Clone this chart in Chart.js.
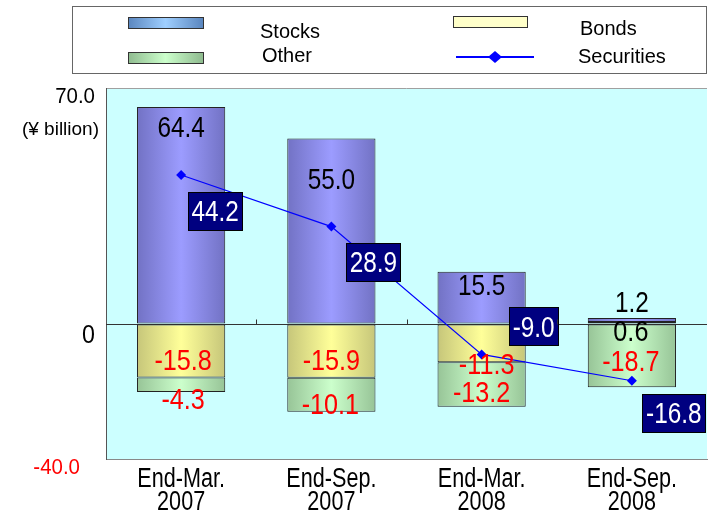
<!DOCTYPE html>
<html>
<head>
<meta charset="utf-8">
<script src="https://cdn.jsdelivr.net/npm/chart.js@4.4.0/dist/chart.umd.min.js"></script>
<style>
  html, body { margin: 0; padding: 0; background: #fff; overflow: hidden; }
  #wrap { width: 708px; height: 511px; overflow: hidden; }
  canvas { display: block; }
</style>
</head>
<body>
<div id="wrap"><canvas id="chart" width="712" height="511" style="width:712px;height:511px"></canvas></div>
<script>
// Data
const categories = [["End-Mar.", "2007"], ["End-Sep.", "2007"], ["End-Mar.", "2008"], ["End-Sep.", "2008"]];
const stocks = [64.4, 55.0, 15.5, 1.2];
const bonds = [-15.8, -15.9, -11.3, 0.6];
const other = [-4.3, -10.1, -13.2, -18.7];
const securities = [44.2, 28.9, -9.0, -16.8];
const yTicks = [70, 0, -40];
const yTickLabels = ["70.0", "0", "-40.0"];

// label nudges (px) - the source chart places its labels by hand
const stocksNudge = [[0, 20], [0, 40], [0, 13], [0, -16]];
const bondsNudge = [[2, -18], [0, -18], [5, 1], [-1, 8]];
const otherNudge = [[2, 6], [-1, -9], [0, -15], [-1, -27]];
const secNudge = [[34, 36], [42, 35], [52, -28], [42, 32]];

const FONT = "'Liberation Sans', Arial, sans-serif";
const BAR_PCT = 0.587;

function barGrad(edge, mid) {
  return (ctx) => {
    const chart = ctx.chart;
    const xs = chart.scales.x;
    if (!xs || ctx.dataIndex === undefined) return mid;
    const cx = xs.getPixelForValue(ctx.dataIndex);
    const half = (xs.width / categories.length) * BAR_PCT / 2;
    if (!isFinite(cx) || !isFinite(half) || half <= 0) return mid;
    const g = chart.ctx.createLinearGradient(cx - half, 0, cx + half, 0);
    g.addColorStop(0, edge);
    g.addColorStop(0.5, mid);
    g.addColorStop(1, edge);
    return g;
  };
}

// condensed text: the original uses a narrow face, so squeeze Liberation Sans
function condText(ctx, text, x, cy, size, sx, color, align) {
  ctx.save();
  ctx.font = size + "px " + FONT;
  ctx.fillStyle = color;
  ctx.textAlign = align || "center";
  ctx.textBaseline = "alphabetic";
  ctx.translate(x, cy + size * 0.358);
  ctx.scale(sx, 1);
  ctx.fillText(text, 0, 0);
  ctx.restore();
}

// plot background + frame
const plotBg = {
  id: "plotBg",
  beforeDraw(chart) {
    const { ctx, chartArea: a } = chart;
    ctx.save();
    ctx.fillStyle = "#ccffff";
    ctx.fillRect(a.left, a.top, a.right - a.left, a.bottom - a.top);
    ctx.strokeStyle = "#a0a0a0";
    ctx.lineWidth = 1;
    ctx.beginPath();
    ctx.moveTo(a.left, a.top + 0.5);
    ctx.lineTo(a.right, a.top + 0.5);
    ctx.stroke();
    ctx.restore();
  }
};

// axis labels and little tick marks, placed with the scales
const axisMarks = {
  id: "axisMarks",
  afterDraw(chart) {
    const { ctx, chartArea: a } = chart;
    const ys = chart.scales.y;
    const xs = chart.scales.x;
    const y0 = Math.round(ys.getPixelForValue(0)) + 0.5;
    ctx.save();
    ctx.strokeStyle = "#333";
    ctx.lineWidth = 1;
    ctx.beginPath();
    ctx.moveTo(a.left, y0);
    ctx.lineTo(a.left + 7, y0);
    for (let i = 1; i < categories.length; i++) {
      const bx = Math.round((xs.getPixelForValue(i - 1) + xs.getPixelForValue(i)) / 2) + 0.5;
      ctx.moveTo(bx, y0 - 5);
      ctx.lineTo(bx, y0);
    }
    ctx.stroke();

    yTicks.forEach((v, i) => {
      const y = ys.getPixelForValue(v);
      const size = v === 0 ? 25 : 22;
      const right = v < 0 ? 80 : 95;
      const dy = v === 0 ? 10 : 7;
      condText(ctx, yTickLabels[i], right, y + dy, size, 0.93, v < 0 ? "#ff0000" : "#000", "right");
    });
    ctx.font = "19px " + FONT;
    ctx.fillStyle = "#000";
    ctx.textAlign = "right";
    ctx.textBaseline = "alphabetic";
    ctx.fillText("(\u00a5 billion)", 99, 135);

    chart.data.labels.forEach((lab, i) => {
      const x = xs.getPixelForValue(i);
      lab.forEach((line, j) => {
        condText(ctx, line, x, a.bottom + 18 + j * 23, 27, 0.8, "#000");
      });
    });
    ctx.restore();
  }
};

// value labels
const valueLabels = {
  id: "valueLabels",
  afterDatasetsDraw(chart) {
    const { ctx } = chart;
    ctx.save();
    const sets = [
      { idx: 1, data: stocks, nudge: stocksNudge, size: 29, color: () => "#000" },
      { idx: 0, data: bonds, nudge: bondsNudge, size: 30, color: (v) => (v < 0 ? "#ff0000" : "#000") },
      { idx: 2, data: other, nudge: otherNudge, size: 30, color: () => "#ff0000" }
    ];
    sets.forEach((s) => {
      const meta = chart.getDatasetMeta(s.idx);
      meta.data.forEach((el, i) => {
        const v = s.data[i];
        condText(ctx, v.toFixed(1), el.x + s.nudge[i][0], el.y + s.nudge[i][1], s.size, 0.84, s.color(v));
      });
    });
    const lm = chart.getDatasetMeta(3);
    lm.data.forEach((pt, i) => {
      const txt = securities[i].toFixed(1);
      const cx = pt.x + secNudge[i][0];
      const cy = pt.y + secNudge[i][1];
      ctx.font = "29px " + FONT;
      const w = Math.round(ctx.measureText(txt).width * 0.84 + 7);
      const h = 38;
      const lx = Math.round(cx - w / 2);
      const ty = Math.round(cy - h / 2);
      ctx.fillStyle = "#000080";
      ctx.fillRect(lx, ty, w, h);
      ctx.strokeStyle = "#000";
      ctx.lineWidth = 1;
      ctx.strokeRect(lx + 0.5, ty + 0.5, w, h);
      condText(ctx, txt, cx, cy, 29, 0.84, "#ffffff");
    });
    ctx.restore();
  }
};

// legend box at the top
const legendBox = {
  id: "legendBox",
  afterDraw(chart) {
    const { ctx } = chart;
    ctx.save();
    ctx.strokeStyle = "#666";
    ctx.lineWidth = 1;
    ctx.strokeRect(72.5, 6.5, 634, 67);

    function swatch(x, y, w, h, edge, mid) {
      const g = ctx.createLinearGradient(x, 0, x + w, 0);
      g.addColorStop(0, edge);
      g.addColorStop(0.5, mid);
      g.addColorStop(1, edge);
      ctx.fillStyle = g;
      ctx.fillRect(x, y, w, h);
      ctx.strokeStyle = "#333";
      ctx.strokeRect(x + 0.5, y + 0.5, w, h);
    }
    swatch(128, 17, 75, 11, "#5a86bf", "#9fcfff");
    swatch(128, 52, 75, 11, "#8fbb8f", "#ccffcc");
    swatch(453, 16, 74, 11, "#ffffc8", "#ffffcc");

    ctx.strokeStyle = "#0000ff";
    ctx.lineWidth = 2;
    ctx.beginPath();
    ctx.moveTo(456, 57);
    ctx.lineTo(534, 57);
    ctx.stroke();
    ctx.fillStyle = "#0000ff";
    ctx.beginPath();
    ctx.moveTo(495, 51);
    ctx.lineTo(502, 57);
    ctx.lineTo(495, 63);
    ctx.lineTo(488, 57);
    ctx.closePath();
    ctx.fill();

    ctx.font = "20px " + FONT;
    ctx.fillStyle = "#000";
    ctx.textAlign = "left";
    ctx.textBaseline = "middle";
    ctx.fillText("Stocks", 260, 32);
    ctx.fillText("Other", 262, 56);
    ctx.fillText("Bonds", 580, 29);
    ctx.fillText("Securities", 578, 57);
    ctx.restore();
  }
};

new Chart(document.getElementById("chart"), {
  data: {
    labels: categories,
    datasets: [
      {
        type: "bar", label: "Bonds", data: bonds, stack: "a", order: 1,
        backgroundColor: barGrad("#c6c67a", "#ffff99"),
        borderColor: "#222", borderWidth: 1, borderSkipped: false
      },
      {
        type: "bar", label: "Stocks", data: stocks, stack: "a", order: 1,
        backgroundColor: barGrad("#7272c4", "#9c9cff"),
        borderColor: "#222", borderWidth: 1, borderSkipped: false
      },
      {
        type: "bar", label: "Other", data: other, stack: "a", order: 1,
        backgroundColor: barGrad("#97c497", "#ccffcc"),
        borderColor: "#222", borderWidth: 1, borderSkipped: false
      },
      {
        type: "line", label: "Securities", data: securities, stack: "line", order: 0,
        borderColor: "#0000ff", borderWidth: 1.2, backgroundColor: "#0000ff",
        pointStyle: "rectRot", pointRadius: 5, pointBorderWidth: 0, tension: 0
      }
    ]
  },
  options: {
    responsive: false,
    animation: false,
    layout: { padding: { top: 88, left: 0, right: 0, bottom: 0 } },
    datasets: { bar: { categoryPercentage: 1, barPercentage: BAR_PCT } },
    plugins: { legend: { display: false }, tooltip: { enabled: false } },
    scales: {
      x: {
        stacked: true,
        grid: { display: false, drawTicks: false },
        border: { display: true, color: "#888" },
        ticks: { display: false },
        afterFit(scale) { scale.height = 52; }
      },
      y: {
        stacked: true,
        min: -40, max: 70,
        afterBuildTicks(scale) { scale.ticks = yTicks.map((v) => ({ value: v })); },
        ticks: { display: false },
        grid: {
          drawTicks: false,
          color: (c) => (c.tick && c.tick.value === 0 ? "#333" : "rgba(0,0,0,0)")
        },
        border: { display: true, color: "#555" },
        afterFit(scale) { scale.width = 106; }
      }
    }
  },
  plugins: [plotBg, axisMarks, valueLabels, legendBox]
});
</script>
</body>
</html>
